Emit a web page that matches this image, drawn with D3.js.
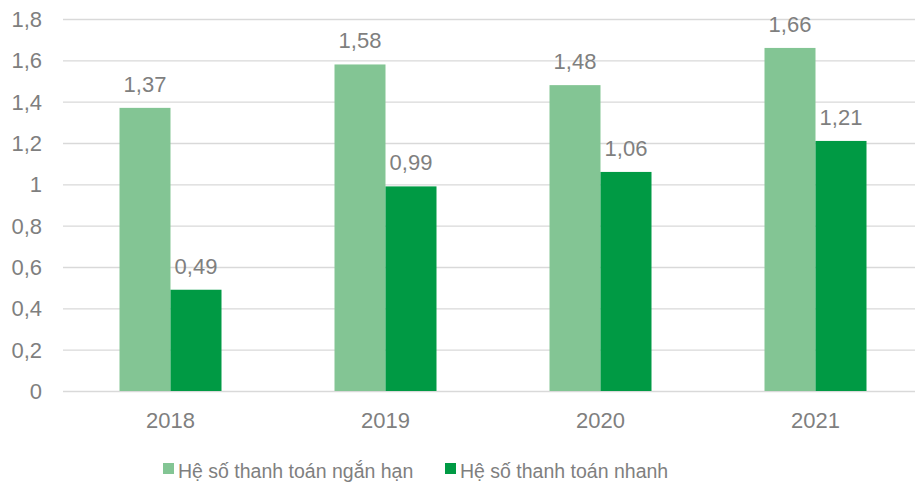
<!DOCTYPE html>
<meta charset="utf-8">
<style>
body { margin:0; background:#fff; }
svg { display:block; }
text { font-family:"Liberation Sans", Arial, sans-serif; fill:#7f7f7f; }
.grid line { stroke:#d9d9d9; stroke-width:1.3px; }
.grid path { stroke:none; }
</style>
<body>
<script src="https://d3js.org/d3.v7.min.js"></script>
<script>
var years = ["2018", "2019", "2020", "2021"];
var seriesNames = ["Hệ số thanh toán ngắn hạn", "Hệ số thanh toán nhanh"];
var shortTerm = [1.37, 1.58, 1.48, 1.66];
var quick = [0.49, 0.99, 1.06, 1.21];
var yTicks = [0, 0.2, 0.4, 0.6, 0.8, 1, 1.2, 1.4, 1.6, 1.8];
var colors = ["#83c594", "#009a44"];

var W = 915, H = 484;
var margin = {top: 19, left: 63, bottom: 93};
var plotW = 860;
var plotH = H - margin.top - margin.bottom;

var fmt = function(d) { return String(d).replace(".", ","); };

var svg = d3.select("body").append("svg")
    .attr("width", W).attr("height", H);

var g = svg.append("g")
    .attr("transform", "translate(" + margin.left + "," + margin.top + ")");

var x = d3.scaleBand().domain(years).range([0, plotW]);
var y = d3.scaleLinear().domain([0, 1.8]).range([plotH, 0]);
var bw = 51;

// gridlines
g.append("g")
    .attr("class", "grid")
    .call(d3.axisLeft(y).tickValues(yTicks).tickSize(-plotW).tickFormat(""));

// y labels
g.selectAll(".ylab")
    .data(yTicks)
    .enter().append("text")
    .attr("x", -21)
    .attr("y", function(d) { return y(d); })
    .attr("dy", "0.36em")
    .attr("text-anchor", "end")
    .style("font-size", "22px")
    .text(fmt);

var series = [shortTerm, quick];
series.forEach(function(vals, s) {
  var off = s === 0 ? -bw : 0;
  g.selectAll(".bar" + s)
      .data(vals)
      .enter().append("rect")
      .attr("x", function(d, i) { return x(years[i]) + x.bandwidth() / 2 + off; })
      .attr("y", function(d) { return y(d); })
      .attr("width", bw)
      .attr("height", function(d) { return plotH - y(d); })
      .attr("fill", colors[s]);

  g.selectAll(".lab" + s)
      .data(vals)
      .enter().append("text")
      .attr("x", function(d, i) { return x(years[i]) + x.bandwidth() / 2 + off + bw / 2; })
      .attr("y", function(d) { return y(d) - 16; })
      .attr("text-anchor", "middle")
      .style("font-size", "22px")
      .text(fmt);
});

// x labels
g.selectAll(".xlab")
    .data(years)
    .enter().append("text")
    .attr("x", function(d) { return x(d) + x.bandwidth() / 2; })
    .attr("y", plotH + 37)
    .attr("text-anchor", "middle")
    .style("font-size", "22px")
    .text(function(d) { return d; });

// legend
var legX = [163, 445];
var leg = svg.selectAll(".leg")
    .data(seriesNames)
    .enter().append("g")
    .attr("transform", function(d, i) { return "translate(" + legX[i] + ",463)"; });
leg.append("rect")
    .attr("width", 11).attr("height", 11)
    .attr("fill", function(d, i) { return colors[i]; });
leg.append("text")
    .attr("x", 15).attr("y", 15)
    .style("font-size", "19.5px")
    .text(function(d) { return d; });
</script>
</body>
